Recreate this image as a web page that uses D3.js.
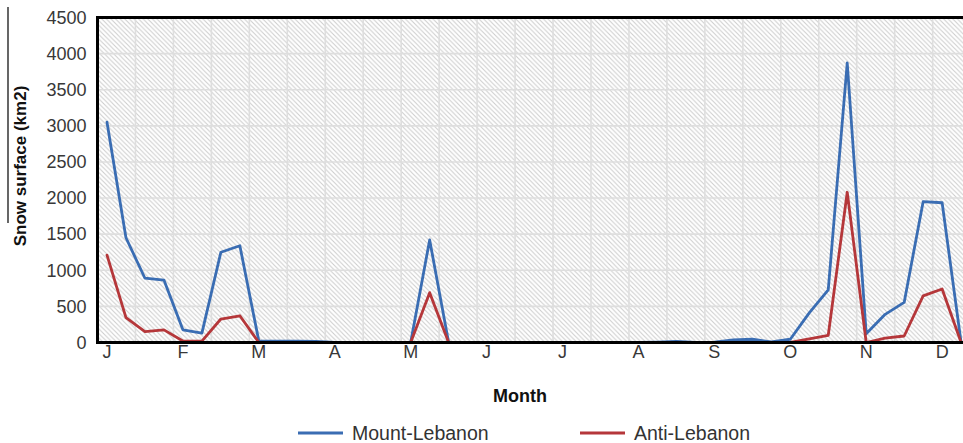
<!DOCTYPE html>
<html>
<head>
<meta charset="utf-8">
<script src="https://cdn.jsdelivr.net/npm/d3@7"></script>
<style>
  html, body { margin: 0; padding: 0; background: #fff; }
  svg { display: block; font-family: "Liberation Sans", Arial, sans-serif; }
</style>
</head>
<body>
<svg id="chart" width="963" height="443"></svg>
<script>
// Snow-covered area, sampled four times per month (46 samples, January to early December end)
const monthLabels = ["J", "F", "M", "A", "M", "J", "J", "A", "S", "O", "N", "D"];
const samplesPerMonth = 4;

const mountLebanon = [
  3050, 1450, 890, 865, 175, 130, 1250, 1340,
  20, 20, 20, 15, 0, 0, 0, 0,
  0, 1420, 0, 0, 0, 0, 0, 0,
  0, 0, 0, 0, 0, 5, 15, 0,
  5, 35, 45, 10, 45, 410, 730, 3870,
  120, 390, 555, 1950, 1935, 0
];

const antiLebanon = [
  1210, 345, 150, 175, 20, 20, 325, 370,
  0, 0, 0, 0, 0, 0, 0, 0,
  0, 690, 0, 0, 0, 0, 0, 0,
  0, 0, 0, 0, 0, 0, 0, 0,
  0, 0, 0, 0, 0, 50, 100, 2080,
  0, 60, 90, 645, 740, 0
];

const yTicks = [0, 500, 1000, 1500, 2000, 2500, 3000, 3500, 4000, 4500];

const seriesList = [
  { name: "Mount-Lebanon", values: mountLebanon, color: "#3a6db3" },
  { name: "Anti-Lebanon", values: antiLebanon, color: "#b5373a" }
];

const svg = d3.select("#chart");
const plot = { left: 97.5, top: 17.5, bottom: 342.5, right: 970.6 };

const idx = d3.range(mountLebanon.length);
const x = d3.scaleBand().domain(idx).range([plot.left, plot.right]).paddingInner(0).paddingOuter(0);
const y = d3.scaleLinear().domain([0, 4500]).range([plot.bottom, plot.top]);

// diagonal hatch fill for the plotting area
const defs = svg.append("defs");
const pat = defs.append("pattern")
  .attr("id", "hatch")
  .attr("patternUnits", "userSpaceOnUse")
  .attr("width", 4.6).attr("height", 4.6);
pat.append("rect").attr("width", 4.6).attr("height", 4.6).attr("fill", "#ffffff");
pat.append("path")
  .attr("d", "M0,0 L4.6,4.6 M-1,3.6 L1,5.6 M3.6,-1 L5.6,1")
  .attr("stroke", "#cdcdcd").attr("stroke-width", 1);

svg.append("rect")
  .attr("x", plot.left).attr("y", plot.top)
  .attr("width", plot.right - plot.left).attr("height", plot.bottom - plot.top)
  .attr("fill", "url(#hatch)");

// gridlines
const grid = svg.append("g").attr("stroke", "#dedede").attr("stroke-width", 1.6);
grid.selectAll("line.h").data(yTicks.slice(1)).join("line")
  .attr("x1", plot.left).attr("x2", plot.right)
  .attr("y1", d => y(d)).attr("y2", d => y(d));
grid.selectAll("line.v").data(idx.filter(i => i % 2 === 0 && i > 0)).join("line")
  .attr("x1", d => x(d)).attr("x2", d => x(d))
  .attr("y1", plot.top).attr("y2", plot.bottom);

// y axis
const yAxis = svg.append("g")
  .attr("transform", `translate(${plot.left},0)`)
  .call(d3.axisLeft(y).tickValues(yTicks).tickSize(0).tickPadding(11).tickFormat(d3.format("d")));
yAxis.select(".domain").remove();
yAxis.selectAll("text").attr("font-size", 18).attr("fill", "#383838")
  .attr("font-family", "'Liberation Sans', Arial, sans-serif");

// x axis
const xAxis = svg.append("g")
  .attr("transform", `translate(0,${plot.bottom})`)
  .call(d3.axisBottom(x)
    .tickValues(idx.filter(i => i % samplesPerMonth === 0))
    .tickFormat(i => monthLabels[i / samplesPerMonth])
    .tickSize(0).tickPadding(3));
xAxis.select(".domain").remove();
xAxis.selectAll("text").attr("font-size", 18).attr("fill", "#383838")
  .attr("font-family", "'Liberation Sans', Arial, sans-serif");

// series lines
const line = d3.line()
  .x((d, i) => x(i) + x.bandwidth() / 2)
  .y(d => y(d));
svg.append("g").selectAll("path").data(seriesList).join("path")
  .attr("d", s => line(s.values))
  .attr("fill", "none")
  .attr("stroke", s => s.color)
  .attr("stroke-width", 2.8)
  .attr("stroke-linejoin", "round")
  .attr("stroke-linecap", "round");

// frame
svg.append("line").attr("x1", plot.left - 1.5).attr("x2", plot.right).attr("y1", plot.top).attr("y2", plot.top)
  .attr("stroke", "#000").attr("stroke-width", 3);
svg.append("line").attr("x1", plot.left).attr("x2", plot.left).attr("y1", plot.top).attr("y2", plot.bottom + 1.5)
  .attr("stroke", "#000").attr("stroke-width", 3);
svg.append("line").attr("x1", plot.left - 1.5).attr("x2", plot.right).attr("y1", plot.bottom).attr("y2", plot.bottom)
  .attr("stroke", "#000").attr("stroke-width", 3);

// thin rule beside the axis title
svg.append("line").attr("x1", 8).attr("x2", 8).attr("y1", 7).attr("y2", 223)
  .attr("stroke", "#000").attr("stroke-width", 1.2);

// axis titles
svg.append("text")
  .attr("transform", "translate(26,166) rotate(-90)")
  .attr("text-anchor", "middle")
  .attr("font-size", 17).attr("font-weight", "bold").attr("fill", "#111")
  .text("Snow surface (km2)");
svg.append("text")
  .attr("x", 520).attr("y", 402)
  .attr("text-anchor", "middle")
  .attr("font-size", 18).attr("font-weight", "bold").attr("fill", "#111")
  .text("Month");

// legend
const legendPos = [298, 580];
const legend = svg.append("g").selectAll("g").data(seriesList).join("g")
  .attr("transform", (d, i) => `translate(${legendPos[i]},433)`);
legend.append("line").attr("x1", 0).attr("x2", 45).attr("y1", 0).attr("y2", 0)
  .attr("stroke", d => d.color).attr("stroke-width", 3);
legend.append("text").attr("x", 54).attr("y", 7)
  .attr("font-size", 19.5).attr("fill", "#333")
  .text(d => d.name);
</script>
</body>
</html>
